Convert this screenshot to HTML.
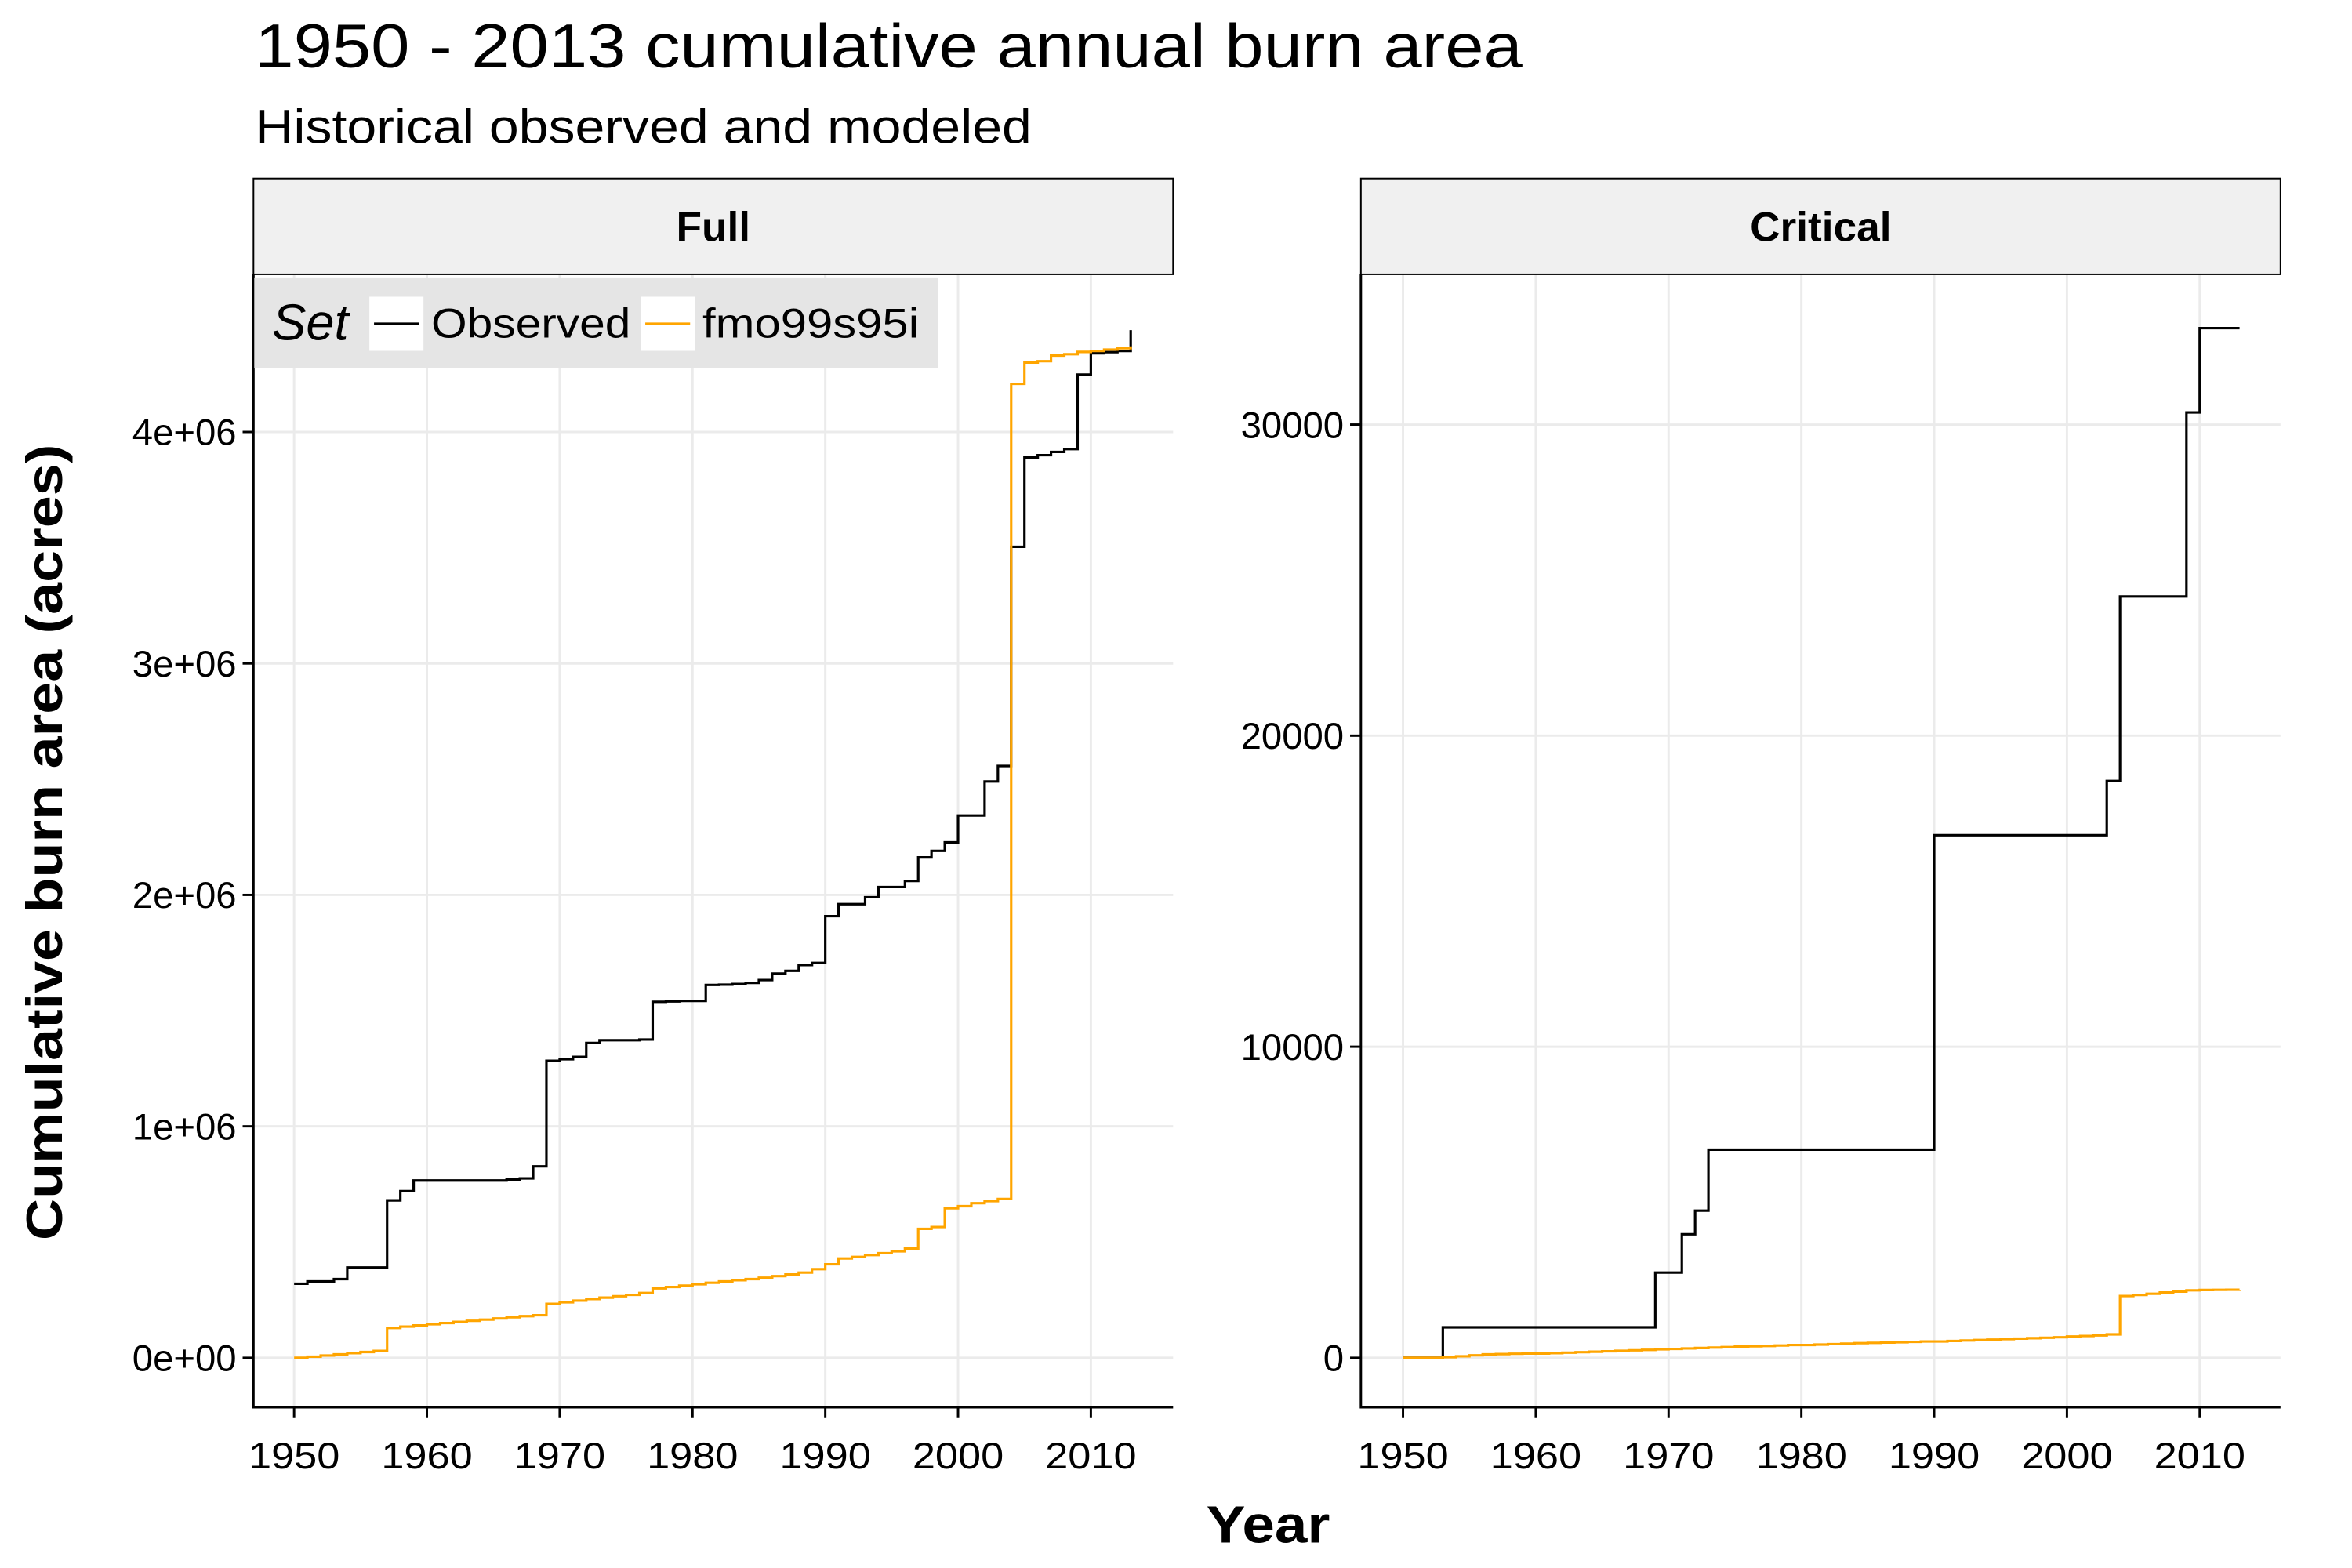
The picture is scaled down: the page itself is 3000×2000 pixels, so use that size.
<!DOCTYPE html>
<html><head><meta charset="utf-8"><style>
html,body{margin:0;padding:0;background:#fff}
svg{display:block;font-family:"Liberation Sans",sans-serif}
</style></head><body>
<svg id="chart" width="3000" height="2000" viewBox="0 0 3000 2000">
<g id="rootg" transform="scale(0.9857)">
<text x="330" y="87" font-size="80" fill="#000" textLength="1640" lengthAdjust="spacingAndGlyphs">1950 - 2013 cumulative annual burn area</text>
<text x="330" y="185" font-size="62" fill="#000" textLength="1005" lengthAdjust="spacingAndGlyphs">Historical observed and modeled</text>
<g id="panels"></g>
<text x="1641" y="1996" font-size="68" font-weight="bold" text-anchor="middle" textLength="160" lengthAdjust="spacingAndGlyphs">Year</text>
<text transform="translate(80,1090) rotate(-90)" font-size="66" font-weight="bold" text-anchor="middle" textLength="1030" lengthAdjust="spacingAndGlyphs">Cumulative burn area (acres)</text>
</g>
</svg>
<script>
const years = [];
for (let y = 1950; y <= 2013; y++) years.push(y);
const fullObserved = [0.32,0.33,0.33,0.34,0.39,0.39,0.39,0.68,0.72,0.766,0.766,0.766,0.766,0.766,0.766,0.766,0.77,0.775,0.827,1.283,1.29,1.30,1.36,1.372,1.372,1.372,1.375,1.538,1.54,1.542,1.542,1.611,1.612,1.615,1.62,1.632,1.66,1.672,1.697,1.706,1.908,1.96,1.96,1.99,2.034,2.034,2.06,2.162,2.19,2.227,2.343,2.343,2.49,2.557,3.504,3.89,3.9,3.914,3.926,4.248,4.34,4.345,4.35,4.44];
const fullModeled = [0.0,0.005,0.01,0.015,0.02,0.025,0.03,0.129,0.135,0.14,0.145,0.15,0.155,0.16,0.165,0.17,0.175,0.18,0.184,0.233,0.24,0.247,0.254,0.26,0.266,0.272,0.28,0.30,0.306,0.312,0.318,0.324,0.33,0.335,0.34,0.346,0.353,0.36,0.368,0.383,0.404,0.429,0.436,0.444,0.452,0.46,0.472,0.557,0.565,0.646,0.655,0.668,0.677,0.686,4.208,4.30,4.306,4.33,4.336,4.346,4.35,4.356,4.362,4.37];
const critObserved = [0,0,0,980,980,980,980,980,980,980,980,980,980,980,980,980,980,980,980,2740,2740,3970,4730,6690,6690,6690,6690,6690,6690,6690,6690,6690,6690,6690,6690,6690,6690,6690,6690,6690,16800,16800,16800,16800,16800,16800,16800,16800,16800,16800,16800,16800,16800,18540,24475,24475,24475,24475,24475,30390,33100,33100,33100,33100];
const critModeled = [0,0,0,20,50,80,110,120,130,137,137,150,165,180,195,210,225,240,255,274,285,300,315,330,345,360,370,380,395,411,411,425,440,455,470,480,490,500,512,525,525,540,555,570,585,600,615,630,645,660,685,700,720,753,1986,2020,2060,2100,2130,2170,2180,2185,2188,2190];
const xTicks = [1950,1960,1970,1980,1990,2000,2010];
const fullYTicks = [0,1,2,3,4];
const fullYLabels = ["0e+00","1e+06","2e+06","3e+06","4e+06"];
const critYTicks = [0,10000,20000,30000];
const critYLabels = ["0","10000","20000","30000"];

const NS = "http://www.w3.org/2000/svg";
const root = document.getElementById('panels');
function mk(tag, attrs, parent) {
  const e = document.createElementNS(NS, tag);
  for (const k in attrs) e.setAttribute(k, attrs[k]);
  (parent || root).appendChild(e);
  return e;
}
function panel(cfg) {
  const g = mk('g', {});
  
  
  const xs = y => cfg.x0 + (y - 1950) * cfg.xk;
  const ys = v => 1757 - v * cfg.yk;
  xTicks.forEach(t => {
    const l = mk('line', {x1: xs(t), x2: xs(t), y1: 355, y2: 1821, stroke: '#ebebeb', 'stroke-width': 3}, g);
    
    
  });
  cfg.yt.forEach(t => {
    const l = mk('line', {x1: cfg.L, x2: cfg.R, y1: ys(t), y2: ys(t), stroke: '#ebebeb', 'stroke-width': 3}, g);
    
    
  });
  const s = mk('rect', {x: cfg.L, y: 231, width: cfg.R - cfg.L, height: 124, fill: '#f0f0f0', stroke: '#000', 'stroke-width': 2}, g);
  
  
  const st = mk('text', {x: (cfg.L + cfg.R) / 2, y: 312, 'font-size': 54, 'font-weight': 'bold', 'text-anchor': 'middle'}, g);
  st.textContent = cfg.title;
  
  
  function step(vals, color, nm) {
    let d = '';
    vals.forEach((v, i) => {
      const x = xs(years[i]), y = ys(v);
      if (i === 0) d += 'M' + x + ' ' + y;
      else d += 'H' + x + 'V' + y;
    });
    const p = mk('path', {d: d, fill: 'none', stroke: color, 'stroke-width': 3.2}, g);
    
    
  }
  step(cfg.obs, '#000', cfg.name + '-observed-line');
  step(cfg.mod, '#ffa500', cfg.name + '-fmo99s95i-line');
  const ax = mk('path', {d: `M${cfg.L} 355V1821H${cfg.R}`, fill: 'none', stroke: '#000', 'stroke-width': 3}, g);
  
  
  xTicks.forEach(t => {
    mk('line', {x1: xs(t), x2: xs(t), y1: 1821, y2: 1835, stroke: '#000', 'stroke-width': 3}, g);
    const tx = mk('text', {x: xs(t), y: 1900, 'font-size': 48, 'text-anchor': 'middle', textLength: 118, lengthAdjust: 'spacingAndGlyphs'}, g);
    tx.textContent = t;
    
    
  });
  cfg.yt.forEach((t, i) => {
    mk('line', {x1: cfg.L - 14, x2: cfg.L, y1: ys(t), y2: ys(t), stroke: '#000', 'stroke-width': 3}, g);
    const tx = mk('text', {x: cfg.L - 22, y: ys(t) + 17, 'font-size': 48, 'text-anchor': 'end'}, g);
    tx.textContent = cfg.yl[i];
    
    
  });
}
panel({name: 'full', title: 'Full', L: 328, R: 1518, x0: 380.6, xk: 17.183, yk: 299.5, yt: fullYTicks, yl: fullYLabels, obs: fullObserved, mod: fullModeled});
panel({name: 'critical', title: 'Critical', L: 1761, R: 2951, x0: 1815.5, xk: 17.183, yk: 0.040253, yt: critYTicks, yl: critYLabels, obs: critObserved, mod: critModeled});

const lg = mk('g', {});


mk('rect', {x: 329, y: 359, width: 885, height: 117, fill: '#e5e5e5'}, lg);
const lt = mk('text', {x: 352, y: 440, 'font-size': 66, 'font-style': 'italic'}, lg);
lt.textContent = 'Set';


[[478, '#000', 'Observed', 'legend-entry-observed'], [829, '#ffa500', 'fmo99s95i', 'legend-entry-fmo99s95i']].forEach(e => {
  const eg = mk('g', {}, lg);
  
  
  mk('rect', {x: e[0], y: 384, width: 70, height: 70, fill: '#fff'}, eg);
  mk('line', {x1: e[0] + 6, x2: e[0] + 64, y1: 419, y2: 419, stroke: e[1], 'stroke-width': 3.2}, eg);
  const t = mk('text', {x: e[0] + 80, y: 437, 'font-size': 54, textLength: e[2] === 'Observed' ? 258 : 280, lengthAdjust: 'spacingAndGlyphs'}, eg);
  t.textContent = e[2];
});
</script>
</body></html>
